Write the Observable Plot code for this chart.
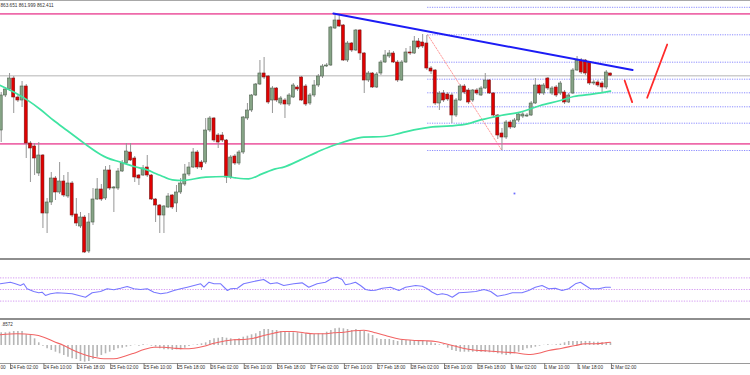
<!DOCTYPE html>
<html><head><meta charset="utf-8">
<script src="https://cdn.jsdelivr.net/npm/d3@7"></script>
<script src="https://cdn.jsdelivr.net/npm/@observablehq/plot@0.6"></script>
<style>
body{margin:0;background:#fff;}
#wrap{position:relative;width:750px;height:375px;overflow:hidden;background:#fff;font-family:"Liberation Sans",Arial,sans-serif;}
.panel{position:absolute;left:0;}
.sep{position:absolute;left:0;width:750px;}
</style></head><body>
<div id="wrap">
  <div id="main" class="panel" style="top:0px"></div>
  <div class="sep" style="top:0;height:1px;background:#a8a8a8"></div>
  <div class="sep" style="top:258px;height:2px;background:#8e8e8e"></div>
  <div id="rsi" class="panel" style="top:260px"></div>
  <div class="sep" style="top:318px;height:2px;background:#8e8e8e"></div>
  <div id="macd" class="panel" style="top:320px"></div>
</div>
<script>
// ---- data (hourly candles, index 0 = 24 Feb 00:00) ----
const header = "863.651 861.999 862.411";
const open = [835,852.5,855.5,861,851.5,850,857,828.5,827,813.5,
822.5,793.5,799,811,804,809.5,802,808.5,793,787,
791.5,774.5,789,800.5,805.5,801,815,806,806,814.5,
818.5,824,821,812.5,812.5,816.5,812.5,800.5,797.5,792.5,
796.5,802.5,798.5,804,808,813,816.5,824,819,819,
835,841,832.5,832.5,830,811.5,822,818.5,824,841,
845,852.5,858,863.5,862,850,856,848.5,850,848,
851.5,856.5,861.5,857,848.5,852.5,857.5,862,867,867.5,
886,890,887.5,870,878.5,875,885,873.5,860,863.5,
856.5,863.5,869,872,873.5,869,860,869,874,873.5,
879.5,879,878.5,866,865,848.5,853.5,853,852.5,842.5,
850,857,855,850,855,852.5,856,860,853.5,842.5,
833.5,831.5,839,836.5,840,842,842,842.5,848.5,857.5,
853.5,861,853.5,856.5,853.5,854,849,853.5,865,870,
870,869,858.5,859,858.5,856.5,863.5];
const close = [852.5,855.5,861,851.5,850,857,828.5,826,821,822.5,
793.5,799,811,804,809.5,802.5,808.5,792.5,788.5,791.5,
774,789,800.5,805.5,800.5,815,806,806.5,814.5,818.5,
824.5,820,811.5,811,816,812.5,800.5,797.5,792.5,797,
802,796.5,804,808.5,813,816.5,824,816.5,816.5,835,
841,830,829,830,811.5,821.5,818.5,824,841.5,845,
852.5,858,863.5,861.5,849,856,850,851,848,852.5,
857.5,855.5,850,848,852.5,857.5,862,867,867.5,886.5,
890,887,870,878.5,875,885,873.5,860,863.5,856.5,
863,869,872.5,873.5,869,860,869,874,873.5,879.5,
876.5,877,866,864.5,848.5,853.5,850,850.5,842.5,850,
857,854,849,855,853.5,856,860,853.5,842.5,832.5,
831.5,839,836.5,840,843,843,842.5,848.5,857.5,853.5,
857.5,856,856,852.5,858.5,849,852.5,865,870,864,
863.5,858.5,859,857.5,856.5,864,862.411];
const high = [854,856.5,863.5,862,853,859.5,858,829.5,828.5,829,
823,801,814,812,819,812.5,814,809.5,801,794,
792.5,793.5,806,811,808,817,817.5,807,816,820,
828.5,828.5,822,813,817.5,822.5,813,801,798,797.5,
803.5,803,807.5,811,818,819,826,825,820,841,
842,841.5,833.5,834,830.5,822.5,823,825,842,848.5,
853,858.5,870,871.5,862.5,857,856.5,852,851,853.5,
858.5,857.5,862,858,853.5,860,863,868,868.5,887,
893.5,892.5,888,879.5,879,885.5,885.5,874,864.5,864,
864,870,875,875,874.5,870,870,876,877,882,
881,883,882.5,867,865.5,854.5,855,854,853.5,851,
858,858,856,855.5,856,857,863.5,860.5,854,843,
836,840,840,841,844,844,843.5,849.5,861,858,
858.5,861.5,857,857.5,859.5,855,853.5,866,872,871,
870.5,869.5,860,860,859.5,865,863.651];
const low = [829,851.5,854.5,843.5,849,846.5,821,809,812.5,812,
786,783.5,797.5,800,803,801.5,801,791.5,787,786,
773.5,773.5,787.5,800,799.5,800,805,794,805,814,
818,819.5,809,807.5,812,811.5,800,789,783.5,783.5,
796,795.5,794,803,807,812,816,815.5,815,818,
834,829,826,829,808.5,810.5,817.5,817.5,823,840,
844,852,857.5,860.5,848,843.5,849,847.5,841,847,
851,854.5,849.5,847,847.5,851.5,856.5,861,866.5,867,
885.5,886.5,869.5,869,874,874.5,870,853.5,859,856,
856,862.5,868.5,871,868.5,859,859.5,868.5,872.5,873,
875.5,876,865,863,847.5,845,849,849.5,838.5,841.5,
849.5,853,848,849,852.5,852,855.5,853,841.5,830.5,
825,830.5,835.5,836,839,841,841.5,842,848,852.5,
852.5,855,852.5,851.5,852.5,848,848.5,853,864.5,863,
862.5,857.5,857.5,856.5,854,855.5,861.999];

// moving average
const maHour = [-0.2,3,6.2,9.4,12.6,15.8,19,20.6,23.8,25.4,28.6,31.8,35,37,38.2,41,43.4,49,53.8,56.2,59.3,62.5,65.7,67.7,71.7,75.7,78.9,81.3,83.7,86.9,91.7,95.7,98.9,102.9,107.7,111.7,114.9,119.7,124.4,129.2,134,137.2,142,146];
const maValue = [857.5,854.2,850.3,845.5,840,835,830,827.5,823,821.3,819.2,817,815.3,813.5,812.5,810.3,810,811.7,812,811.3,810.8,813.3,815.8,816.7,820.3,824.2,827,828.7,830.3,831.7,832,833.7,835.3,836.7,837.3,838.3,840.3,842.5,844.2,847.5,850,852,853.3,854.7];

// horizontal levels and drawn objects
const pinkLevels = [893.35, 828.35];
const lastPrice = 862.411;
const fibLevels = [896.6, 882.85, 869.15, 860.65, 853.85, 846.85, 838.65, 825];
const fibStartHour = 102.2;
const fibDiagHour = [102.2, 120];
const fibDiagValue = [882.85, 825];
const trendHour = [79.6, 151.3];
const trendValue = [893.5, 865.2];
const arrow1Hour = [149.4, 151.2], arrow1Value = [860, 849.2];
const arrow2Hour = [154.8, 159.6], arrow2Value = [851.4, 878];
const markerHour = [123], markerValue = [803.5];

// RSI
const rsiHour = [-0.2,2.2,3.4,4.6,5.4,6.2,7.8,9,9.8,10.6,11.8,13.4,15.4,17,18.6,20.2,21.8,23.8,25.4,27,28.6,30.2,31.8,33.4,35,36.6,38.2,39.8,41.4,43,44.6,46.2,47.8,48.6,49.8,51,52.6,54.2,55,56.6,58.1,60.5,62.9,64.5,66.1,67.7,70.1,72.1,73.7,75.7,77.7,79.3,80.5,81.7,82.5,83.7,84.9,86.1,87.3,88.5,89.7,91.3,93.3,95.3,96.9,99.3,100.9,102.1,103.3,104.5,105.7,106.9,108.1,109.7,111.7,113.7,115.7,117.3,118.9,120.8,122.5,124.8,126.4,128,129.6,131.2,132.8,134.4,136,137.6,138.8,140,141.2,143.2,144.8,146];
const rsiValue = [59.8,62.6,59.8,56.9,59.8,51.2,46.5,44.3,45.3,39.7,42.6,44.3,43.6,42.6,39.7,36.7,44.3,46.5,51.2,49.5,52.2,55.2,51.2,50,51.2,45.3,42.6,44.3,48.3,51.2,54,56.9,59.8,54,62.6,59.8,59.8,48.3,51.2,52.2,59.8,63.8,67.2,59.8,61.5,56.9,59.8,61.5,54,59.8,62.6,69.5,71.2,67.2,58.1,59.8,62.6,56.9,50,48.3,48.8,52.2,54,48.3,54,56.9,55.7,51.2,45.3,40.9,42.6,40.9,36.7,44.3,45.3,46.5,50,46.5,38.4,40.9,44.3,44.3,48.3,54,56.9,51.2,52.2,48.3,51.2,59.8,62.6,56.9,51.2,51.2,54,54];
const rsiLevels = [70, 50, 30];

// MACD histogram (one per candle) and signal line
const macdHist = [1.27,1.27,1.33,1.4,1.4,1.4,1.07,1.0,0.67,0.27,
-0.07,-0.33,-0.5,-0.67,-0.83,-1.0,-1.17,-1.33,-1.4,-1.6,
-1.67,-1.6,-1.4,-1.17,-1.0,-0.83,-0.67,-0.5,-0.33,-0.27,
-0.17,-0.07,0.02,-0.07,0.07,0.02,-0.07,-0.17,-0.33,-0.43,
-0.43,-0.5,-0.43,-0.43,-0.27,-0.1,0.02,0.07,0.17,0.27,
0.5,0.67,0.73,0.8,0.73,0.67,0.6,0.67,0.83,0.93,
1.07,1.17,1.4,1.6,1.6,1.5,1.5,1.4,1.33,1.27,
1.27,1.27,1.17,1.17,1.1,1.1,1.17,1.17,1.33,1.5,
1.67,1.73,1.67,1.6,1.5,1.6,1.5,1.4,1.17,1.0,
0.67,0.6,0.6,0.6,0.5,0.4,0.5,0.5,0.5,0.5,
0.5,0.5,0.4,0.27,0.17,0.07,0.07,-0.27,-0.5,-0.6,
-0.67,-0.67,-0.67,-0.67,-0.67,-0.67,-0.7,-0.73,-0.73,-0.83,
-0.93,-1.0,-0.93,-0.83,-0.67,-0.5,-0.33,-0.27,-0.17,-0.07,
0.02,0.07,0.02,0.07,0.13,0.27,0.4,0.4,0.4,0.4,
0.4,0.4,0.33,0.33,0.27,0.27,0.27];
const sigHour = [-0.2,3.8,7.8,10.2,12.6,15,17.4,19.8,22.2,24.6,27,29.4,31.8,34.2,36.6,39,41.4,43.8,46.2,48.6,51,53.3,55.7,58.1,60.5,62.9,65.3,67.7,70.1,72.5,74.9,77.3,79.7,82.1,84.5,86.9,88.5,89.7,92.1,94.5,96.9,99.3,101.7,104.1,106.5,108.9,111.3,113.7,116.1,118.4,120.8,123.2,125.6,126.8,128.8,131.2,134.4,137.6,140,142.4,144.8,146];
const sigValue = [1.07,1.17,1.07,0.83,0.4,0,-0.5,-0.9,-1.17,-1.33,-1.33,-1.1,-0.77,-0.4,-0.17,-0.17,-0.27,-0.33,-0.27,-0.07,0.23,0.43,0.57,0.6,0.73,1.0,1.23,1.4,1.4,1.27,1.17,1.17,1.27,1.33,1.47,1.53,1.4,1.27,1.0,0.73,0.57,0.5,0.47,0.4,0.17,-0.07,-0.33,-0.47,-0.53,-0.6,-0.67,-0.73,-0.87,-0.9,-0.77,-0.5,-0.27,0,0.17,0.17,0.27,0.33];
const macdLabel = ".8572";

// time axis (the label left of the first tick shows only its last digits)
const clippedLabel = "00";
const tickHour = [2,10,18,26,34,42,50,58,66,74,82,90,98,106,114,122,130,138,146];
const tickLabels = ["24 Feb 02:00","24 Feb 10:00","24 Feb 18:00","25 Feb 02:00","25 Feb 10:00","25 Feb 18:00","26 Feb 02:00","26 Feb 10:00","26 Feb 18:00","27 Feb 02:00","27 Feb 10:00","27 Feb 18:00","28 Feb 02:00","28 Feb 10:00","28 Feb 18:00","1 Mar 02:00","1 Mar 10:00","1 Mar 18:00","2 Mar 02:00"];

// ---- build ----
const X0 = -0.168, X1 = 179.56;
const candles = open.map((o, i) => ({h: i, open: o, close: close[i], high: high[i], low: low[i]}));
const zip = (xs, ys) => xs.map((x, i) => ({x, y: ys[i]}));
const font = "Liberation Sans, Arial, sans-serif";

const main = Plot.plot({
  width: 750, height: 258, margin: 0,
  x: {domain: [X0, X1], axis: null},
  y: {domain: [771, 900], axis: null},
  style: {background: "transparent", fontFamily: font, overflow: "visible"},
  marks: [
    Plot.ruleY([lastPrice], {stroke: "#cdcdcd", strokeWidth: 1.6}),
    Plot.ruleY(fibLevels, {x1: fibStartHour, x2: X1, stroke: "#8b8bff", strokeWidth: 1, strokeDasharray: "1.2,1.2"}),
    Plot.line(zip(fibDiagHour, fibDiagValue), {x: "x", y: "y", stroke: "#ff9c9c", strokeWidth: 1, strokeDasharray: "1.5,1.5"}),
    Plot.ruleY(pinkLevels, {stroke: "#ee6aaa", strokeWidth: 1.7}),
    Plot.ruleX(candles, {x: "h", y1: "low", y2: "high", stroke: "#969696", strokeWidth: 1}),
    Plot.rect(candles, {
      x1: d => d.h - 0.36, x2: d => d.h + 0.36,
      y1: d => Math.min(d.open, d.close), y2: d => Math.max(d.open, d.close),
      fill: d => d.close >= d.open ? "#86a486" : "#e00000",
      stroke: d => d.close >= d.open ? "#4d604d" : "#7a1818",
      strokeWidth: 0.6
    }),
    Plot.line(zip(maHour, maValue), {x: "x", y: "y", stroke: "#3fe4a2", strokeWidth: 1.7, curve: "monotone-x"}),
    Plot.line(zip(trendHour, trendValue), {x: "x", y: "y", stroke: "#1c1cf5", strokeWidth: 2}),
    Plot.line(zip(arrow1Hour, arrow1Value), {x: "x", y: "y", stroke: "#ff2a2a", strokeWidth: 1.8}),
    Plot.line(zip(arrow2Hour, arrow2Value), {x: "x", y: "y", stroke: "#ff2a2a", strokeWidth: 1.8}),
    Plot.dot(zip(markerHour, markerValue), {x: "x", y: "y", r: 1, fill: "#6b6bff", symbol: "square"}),
    Plot.text([header], {frameAnchor: "top-left", dx: 0, dy: 3.5, fontSize: 4.7, fill: "#333", textAnchor: "start", lineAnchor: "top"})
  ]
});
document.getElementById("main").append(main);

const rsi = Plot.plot({
  width: 750, height: 58, margin: 0,
  x: {domain: [X0, X1], axis: null},
  y: {domain: [0, 100], axis: null},
  style: {background: "transparent", fontFamily: font},
  marks: [
    Plot.ruleY(rsiLevels, {stroke: "#d59cf2", strokeWidth: 1, strokeDasharray: "1.3,1.3"}),
    Plot.line(zip(rsiHour, rsiValue), {x: "x", y: "y", stroke: "#7878ff", strokeWidth: 1.1})
  ]
});
document.getElementById("rsi").append(rsi);

const macd = Plot.plot({
  width: 750, height: 55, marginTop: 0, marginLeft: 0, marginRight: 0, marginBottom: 12,
  x: {domain: [X0, X1]},
  y: {domain: [-1.8, 2.5], axis: null},
  style: {background: "transparent", fontFamily: font, overflow: "visible"},
  marks: [
    Plot.ruleX(macdHist.map((v, i) => ({h: i, v})), {x: "h", y1: 0, y2: "v", stroke: "#b6b6b6", strokeWidth: 1.6}),
    Plot.line(zip(sigHour, sigValue), {x: "x", y: "y", stroke: "#f26464", strokeWidth: 1.1, curve: "monotone-x"}),
    Plot.ruleY([-1.8], {stroke: "#9a9a9a", strokeWidth: 1}),
    Plot.axisX({ticks: tickHour, tickFormat: d => tickLabels[tickHour.indexOf(d)], tickSize: 6, tickPadding: -3.5,
      textAnchor: "start", dx: 1, fontSize: 4.7, fill: "#333", stroke: "#7a7a7a"}),
    Plot.text([clippedLabel], {frameAnchor: "bottom-left", dx: 0, dy: 2.5, fontSize: 4.7, fill: "#333", lineAnchor: "top", textAnchor: "start"}),
    Plot.text([macdLabel], {frameAnchor: "top-left", dx: 1, dy: 2.5, fontSize: 4.5, fill: "#333", lineAnchor: "top", textAnchor: "start"})
  ]
});
document.getElementById("macd").append(macd);
</script>
</body></html>
